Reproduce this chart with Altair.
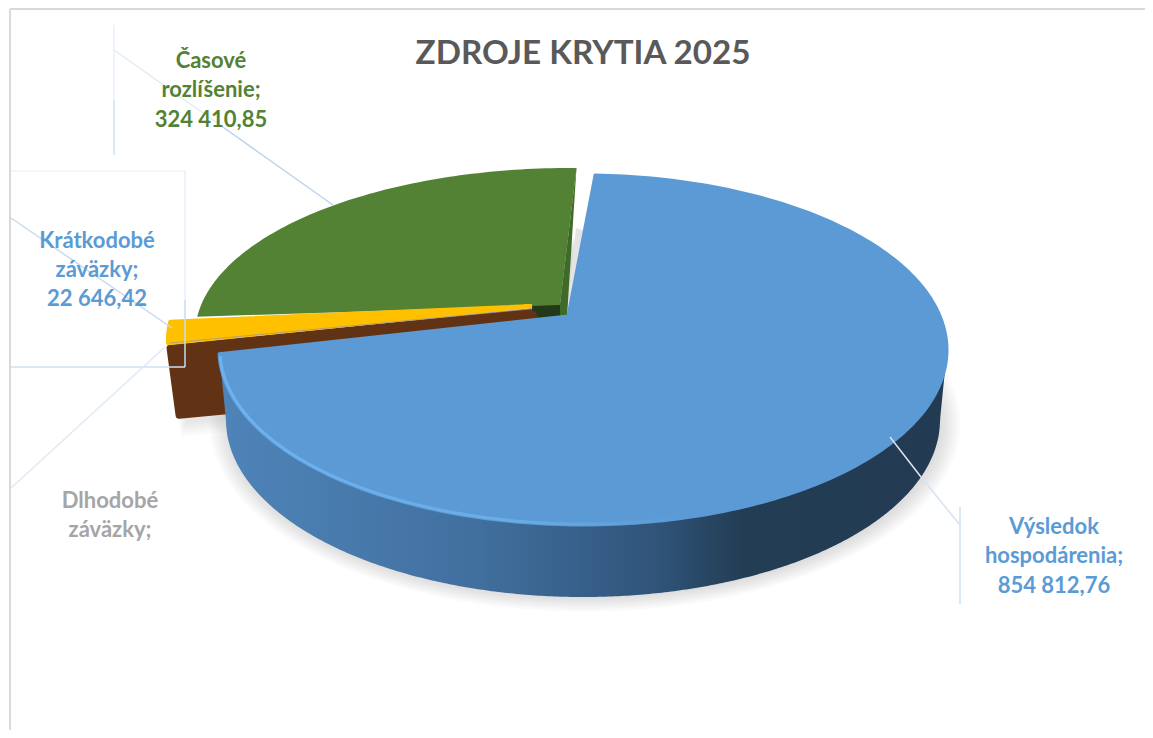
import altair as alt
import numpy as np
import pandas as pd

# ---- values
names = ["Výsledok hospodárenia", "Dlhodobé záväzky", "Krátkodobé záväzky", "Časové rozlíšenie"]
values = [854812.76, 18000.0, 22646.42, 324410.85]
title_text = "ZDROJE KRYTIA 2025"

label_lines = ["Výsledok", "hospodárenia;", "854 812,76",
               "Dlhodobé", "záväzky;",
               "Krátkodobé", "záväzky;", "22 646,42",
               "Časové", "rozlíšenie;", "324 410,85"]
label_x = [1054, 1054, 1054, 110, 110, 97, 97, 97, 211, 211, 211]
label_y = [527, 556, 586, 501, 530, 241, 270, 299, 61, 90, 120]
label_colors = ["#5b9bd5"] * 3 + ["#a5a5a5"] * 2 + ["#5b9bd5"] * 3 + ["#548235"] * 3

# ---- layout: perspective ellipses of the exploded slices
shares = np.array(values) / sum(values)
BLUE = dict(cx=583, cy=350, a=364, b=175, apex=(568, 316))
GREEN = dict(cx=570, cy=335, a=375, b=167, apex=(560, 305))
YEL = dict(cx=540, cy=340, a=372, b=168, apex=(532, 306))
STRETCH_BLUE, STRETCH_YEL, STRETCH_GREEN = 1.058, 1.1, 0.885

XS = alt.Scale(domain=[8, 1145], nice=False, zero=False)
YS = alt.Scale(domain=[8, 730], reverse=True, nice=False, zero=False)


def enc(**kw):
    return dict(x=alt.X("x:Q", scale=XS, axis=None), y=alt.Y("y:Q", scale=YS, axis=None), **kw)


def poly(pts, fill, stroke=None, sw=0, opacity=1.0):
    pts = list(pts) + [pts[0]]
    df = pd.DataFrame({"x": [float(p[0]) for p in pts], "y": [float(p[1]) for p in pts], "i": range(len(pts))})
    return alt.Chart(df).mark_line(fill=fill, stroke=stroke or fill, strokeWidth=sw, strokeJoin="round",
                                   opacity=opacity, clip=False).encode(**enc(order="i:Q"))


def arc(e, t0, t1, n=90):
    t = np.radians(np.linspace(t0, t1, n))
    return [(e["cx"] + e["a"] * np.sin(v), e["cy"] - e["b"] * np.cos(v)) for v in t]


def line(x0, y0, x1, y1, color="#bdd7ee", width=1.5, opacity=0.7):
    df = pd.DataFrame({"x": [x0], "y": [y0], "x2": [x1], "y2": [y1]})
    return alt.Chart(df).mark_rule(color=color, strokeWidth=width, opacity=opacity).encode(
        x=alt.X("x:Q", scale=XS, axis=None), y=alt.Y("y:Q", scale=YS, axis=None), x2="x2:Q", y2="y2:Q")


layers = []

# frame
layers += [line(10, 9, 10, 730, "#d9d9d9", 2, 1), line(10, 9, 1145, 9, "#d9d9d9", 2, 1)]

# soft shadows
for k in range(8):
    e = dict(cx=585, cy=424, a=354 + k * 3, b=172 + k * 2.2)
    layers.append(poly(arc(e, 0, 360, 120), "#808080", opacity=0.045))
for k in range(6):
    layers.append(poly([(178 - k * 2, 360), (240, 360), (240, 418 + k * 2.5), (186 - k, 424 + k * 2.5)], "#808080", opacity=0.035))
layers.append(poly([(576, 228), (589, 232), (583, 314), (566, 318)], "#e4e4e4"))

# green: cut face, sliver, top
layers.append(poly([(532, 304), (561, 303), (561, 316), (532, 319)], "#24381a"))
g1 = 1.0
layers.append(poly([(576.5, 167), (567, 317), (560, 316), (560, 304)], "#406a28"))
g0 = g1 - shares[3] * 360 * STRETCH_GREEN
layers.append(poly([GREEN["apex"]] + arc(GREEN, g0, g1), "#548235"))

# brown: wedge with its cut face (value hidden mostly behind blue)
y1 = g0
y0 = y1 - shares[2] * 360 * STRETCH_YEL
outer = arc(YEL, y0, y0, 1)[0]
layers.append(poly([(532, 312), (outer[0] + 2, outer[1] + 5), (outer[0] + 11, outer[1] + 72),
                    (560, 380)], "#613214", sw=7))

# yellow top
layers.append(poly([YEL["apex"]] + arc(YEL, y0, y1, 20), "#ffc000", sw=4))
layers.append(line(170, 343, 530, 309, "#a09a90", 1, 0.8))

# blue wall as gradient area
t = np.radians(np.linspace(90, 270, 361))
wall_x = BLUE["cx"] + BLUE["a"] * np.sin(t)
wall_top = BLUE["cy"] + BLUE["b"] * np.sqrt(np.clip(1 - ((wall_x - BLUE["cx"]) / BLUE["a"]) ** 2, 0, 1))
a2, b2, cy2 = 357, 177, 420
u = (wall_x - BLUE["cx"]) / a2
wall_bot = np.where(np.abs(u) <= 1, cy2 + b2 * np.sqrt(np.clip(1 - u ** 2, 0, 1)),
                    cy2 - (np.abs(wall_x - BLUE["cx"]) - a2) / (BLUE["a"] - a2) * (cy2 - BLUE["cy"]))
wall = pd.DataFrame({"x": wall_x, "y": wall_top, "y2": wall_bot})
grad = alt.Gradient(gradient="linear", x1=0, x2=1, y1=0, y2=0, stops=[
    alt.GradientStop(offset=0.0, color="#4f84b9"),
    alt.GradientStop(offset=0.35, color="#41709f"),
    alt.GradientStop(offset=0.6, color="#30547a"),
    alt.GradientStop(offset=0.72, color="#233d54"),
    alt.GradientStop(offset=1.0, color="#223b52")])
layers.append(alt.Chart(wall).mark_area(fill=grad, clip=False).encode(
    x=alt.X("x:Q", scale=XS, axis=None), y=alt.Y("y:Q", scale=YS, axis=None), y2="y2:Q"))

# blue top
b0 = 1.9
b1 = b0 + shares[0] * 360 * STRETCH_BLUE
layers.append(poly([BLUE["apex"]] + arc(BLUE, b0, b1, 240), "#5b9ad5", sw=3))

# rim highlight along the front edge of the top
rt = np.radians(np.linspace(268, 125, 200))
rim = pd.DataFrame({"x": BLUE["cx"] + (BLUE["a"] - 1) * np.sin(rt), "y": BLUE["cy"] - (BLUE["b"] - 1) * np.cos(rt), "i": range(200)})
rim_grad = alt.Gradient(gradient="linear", x1=0, x2=1, y1=0, y2=0, stops=[
    alt.GradientStop(offset=0.0, color="#6db3ef"),
    alt.GradientStop(offset=0.45, color="#69ace6"),
    alt.GradientStop(offset=0.7, color="#5b9ad5"),
    alt.GradientStop(offset=1.0, color="#5b9ad5")])
layers.append(alt.Chart(rim).mark_line(stroke=rim_grad, strokeWidth=3, clip=False).encode(**enc(order="i:Q")))

# leader lines and label boxes
layers += [
    line(114, 25, 114, 100, "#e8f1fa", 1.5, 1), line(114, 100, 114, 155, "#cfe0f2", 1.5, 1),
    line(114, 50, 220, 125, "#e0ebf7", 1.5, 1), line(220, 125, 333, 205, "#bcd4ec", 1.5, 1),
    line(11, 171, 185, 171, "#eef4fb", 1.5, 1), line(185, 171, 185, 300, "#e8f1fa", 1.5, 1),
    line(185, 300, 185, 367, "#c8dbef", 1.5, 1), line(11, 367, 185, 367, "#cfe0f2", 1.5, 1),
    line(11, 218, 172, 328, "#c8dbef", 1.5, 1),
    line(11, 488, 165, 347, "#deeaf6", 1.5, 1),
    line(890, 437, 921, 477, "#dde6ee", 1.5, 1), line(921, 477, 960, 525, "#d5e4f3", 1.5, 1),
    line(960, 507, 960, 604, "#cfe0f2", 1.5, 1),
]

# labels
lab = pd.DataFrame({"x": label_x, "y": label_y, "t": label_lines, "c": label_colors})
layers.append(alt.Chart(lab).mark_text(font="Lato", fontWeight="bold", fontSize=22, align="center", baseline="middle").encode(
    x=alt.X("x:Q", scale=XS, axis=None), y=alt.Y("y:Q", scale=YS, axis=None), text="t:N",
    color=alt.Color("c:N", scale=None)))
ttl = pd.DataFrame({"x": [583], "y": [53.5], "t": [title_text]})
layers.append(alt.Chart(ttl).mark_text(font="Lato", fontWeight="bold", fontSize=33.2, align="center", baseline="middle", color="#595959").encode(
    x=alt.X("x:Q", scale=XS, axis=None), y=alt.Y("y:Q", scale=YS, axis=None), text="t:N"))

chart = alt.layer(*layers).properties(width=1137, height=722, padding=0, autosize=alt.AutoSizeParams(type="none")).configure_view(stroke=None)
chart.save("out.html", embed_options={"renderer": "svg", "actions": False})
